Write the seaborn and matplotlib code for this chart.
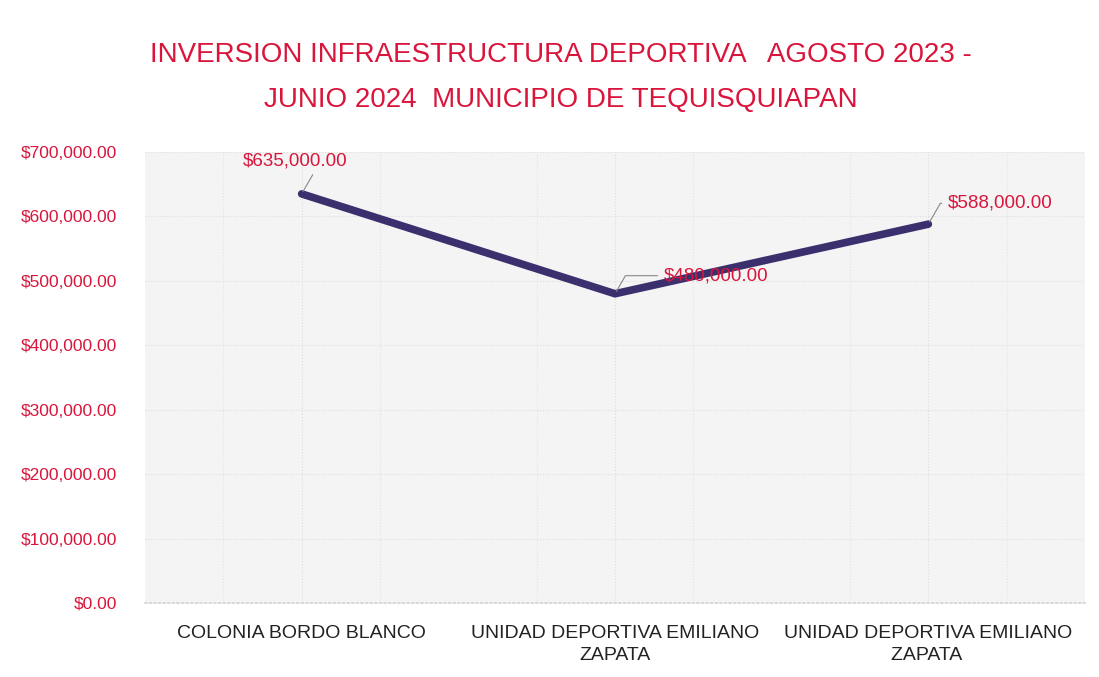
import matplotlib
matplotlib.use("Agg")
import matplotlib.pyplot as plt
import seaborn as sns
import pandas as pd

# Data
categories = ["COLONIA BORDO BLANCO", "UNIDAD DEPORTIVA EMILIANO\nZAPATA", "UNIDAD DEPORTIVA EMILIANO\nZAPATA "]
values = [635000, 480000, 588000]
ytick_values = [0, 100000, 200000, 300000, 400000, 500000, 600000, 700000]

df = pd.DataFrame({"pos": range(len(categories)), "monto": values})

sns.set_theme(style="white")
plt.rcParams['font.family'] = ['Open Sans', 'DejaVu Sans']

red = '#d9153b'
line_color = '#3b2f6e'

fig = plt.figure(figsize=(10.99, 6.77), dpi=100, facecolor='white')
ax = fig.add_axes([145 / 1099, 1 - 603 / 677, 940 / 1099, 451 / 677])
ax.set_facecolor('#f4f4f4')

sns.lineplot(data=df, x="pos", y="monto", ax=ax, color=line_color, linewidth=5.5,
             solid_capstyle='round', solid_joinstyle='miter')

ax.set_xlim(-0.5, 2.5)
ax.set_ylim(0, 700000)
ax.set_yticks(ytick_values)
ax.set_yticklabels([f"${v:,.2f}" for v in ytick_values], color=red, fontsize=12.5,
                   family=['Liberation Sans', 'DejaVu Sans'])
ax.set_xticks(range(len(categories)))
ax.set_xticklabels(categories, fontsize=14, color='#222222', linespacing=1.35,
                   family=['Liberation Sans', 'DejaVu Sans'])
ax.tick_params(axis='y', pad=20, length=0)
ax.tick_params(axis='x', pad=16, length=0)
ax.set_xlabel("")
ax.set_ylabel("")

# faint grid
ax.grid(True, color='#dddddd', linestyle=':', linewidth=0.8)
for x in [-0.25, 0.25, 0.75, 1.25, 1.75, 2.25]:
    ax.axvline(x, color='#e4e4e4', linestyle=':', linewidth=0.8, zorder=0)
for s in ['top', 'right', 'left']:
    ax.spines[s].set_visible(False)
ax.spines['bottom'].set_color('#d5d5d5')
ax.spines['bottom'].set_linestyle(':')

# data labels with leader lines
offsets = [(-5, 24), (35, 13), (14, 15)]
has = ['center', 'left', 'left']
for i, v in enumerate(values):
    ax.annotate(f"${v:,.2f}", xy=(i, v), xytext=offsets[i], textcoords='offset points',
                ha=has[i], va='center', color=red, fontsize=13.5,
                family=['Liberation Sans', 'DejaVu Sans'],
                arrowprops=dict(arrowstyle='-', color='#888888', lw=0.8,
                                connectionstyle='angle,angleA=0,angleB=60,rad=0'))

fig.text(0.51, 1 - 55 / 677, "INVERSION INFRAESTRUCTURA DEPORTIVA   AGOSTO 2023 -",
         ha='center', va='center', color=red, fontsize=20,
         family=['Liberation Sans', 'DejaVu Sans'])
fig.text(0.51, 1 - 100 / 677, "JUNIO 2024  MUNICIPIO DE TEQUISQUIAPAN",
         ha='center', va='center', color=red, fontsize=20,
         family=['Liberation Sans', 'DejaVu Sans'])

fig.savefig('out.png', dpi=100, facecolor='white')
